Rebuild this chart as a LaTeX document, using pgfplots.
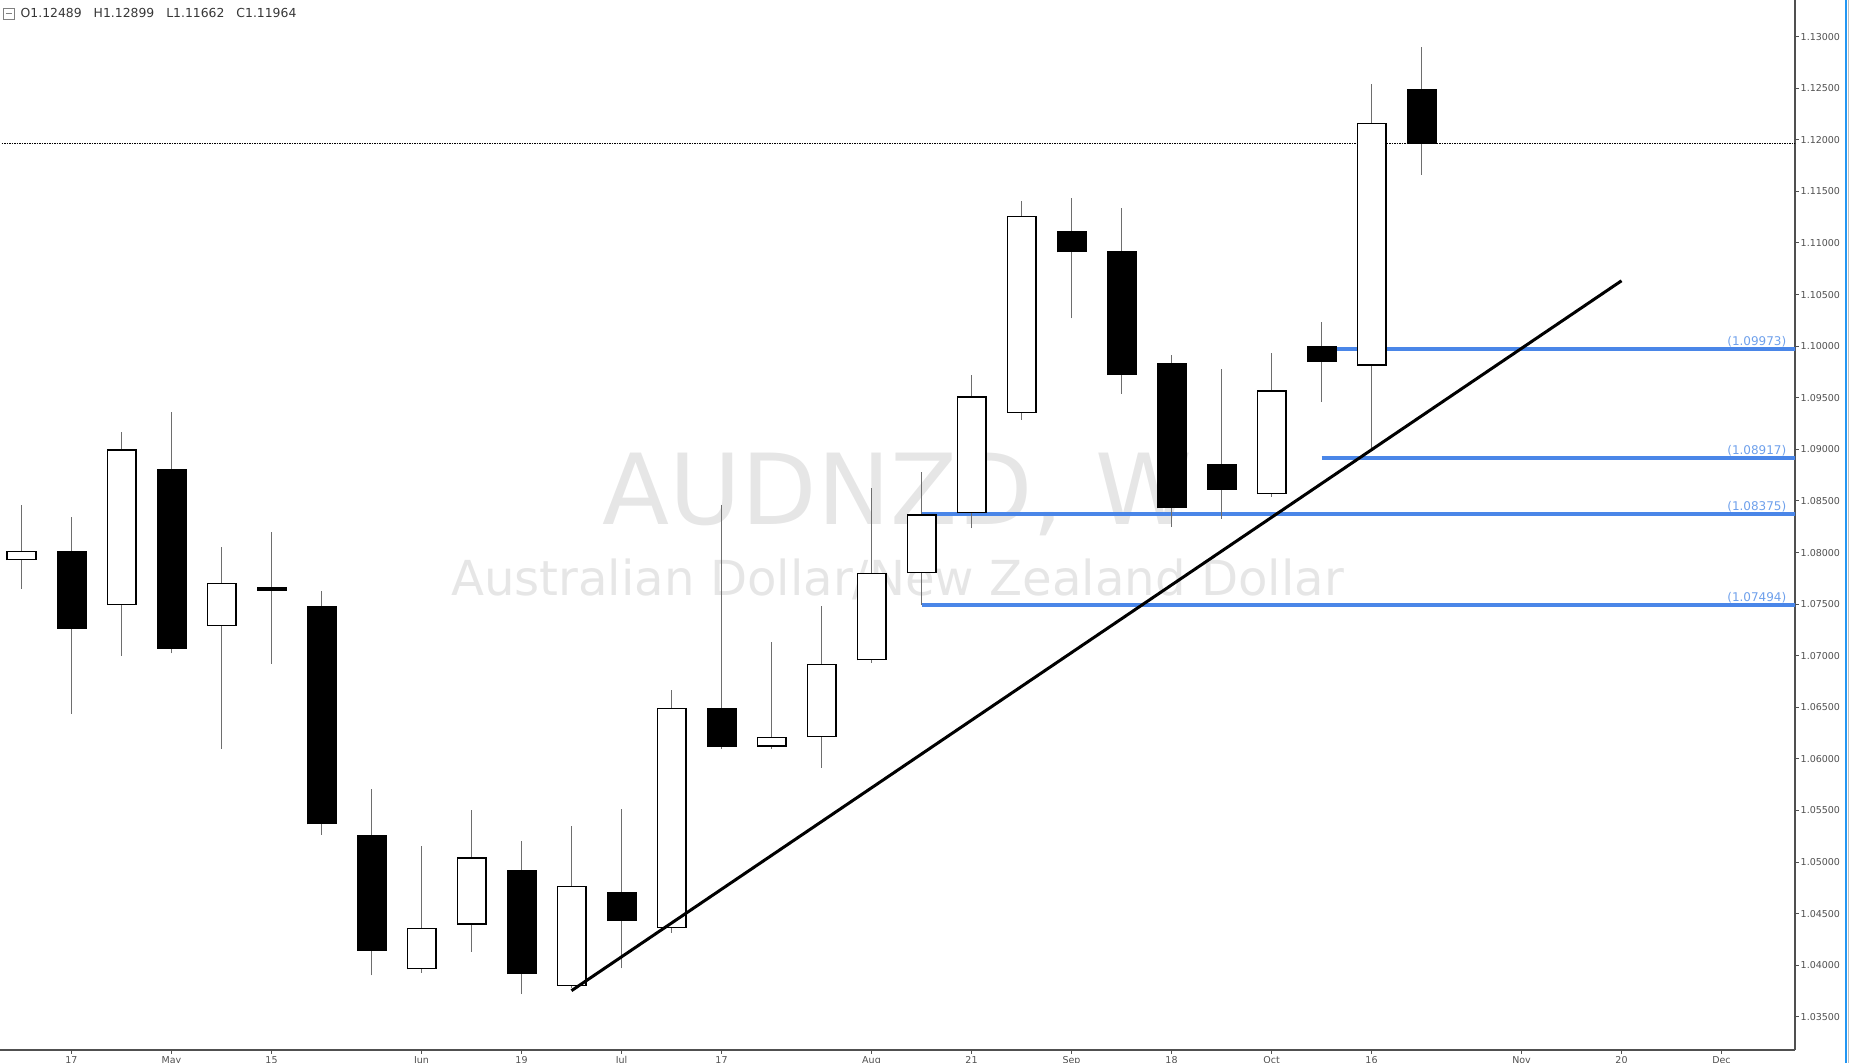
\documentclass[border=0pt]{standalone}
\usepackage{pgfplots}
\pgfplotsset{compat=1.18}
\usepackage{pgfplotstable}
\usepackage{fontspec}
\setmainfont{DejaVu Sans}

\definecolor{lvl}{RGB}{74,134,232}
\definecolor{lvltxt}{RGB}{110,160,235}
\definecolor{wm}{RGB}{230,230,230}
\definecolor{wick}{RGB}{110,110,110}
\definecolor{axisgray}{RGB}{80,80,80}
\definecolor{labelgray}{RGB}{80,80,80}
\definecolor{ohlc}{RGB}{55,55,55}
\definecolor{tvblue}{RGB}{33,150,243}

% AUDNZD weekly, x = week index (0 = week of 10 Apr)
\pgfplotstableread{
x  o       h       l       c
0  1.07926 1.08463 1.07651 1.08017
2  1.07491 1.09171 1.07000 1.09000
4  1.07286 1.08051 1.06097 1.07709
8  1.03960 1.05160 1.03926 1.04360
9  1.04394 1.05503 1.04131 1.05046
11 1.03800 1.05354 1.03777 1.04771
13 1.04360 1.06669 1.04314 1.06497
15 1.06120 1.07137 1.06097 1.06211
16 1.06211 1.07480 1.05914 1.06920
17 1.06954 1.08623 1.06931 1.07800
18 1.07800 1.08783 1.07491 1.08371
19 1.08383 1.09720 1.08234 1.09514
20 1.09354 1.11411 1.09286 1.11263
25 1.08566 1.09937 1.08543 1.09571
27 1.09811 1.12543 1.08989 1.12166
}\upcandles

\pgfplotstableread{
x  o       h       l       c
1  1.08017 1.08349 1.06440 1.07263
3  1.08806 1.09366 1.07023 1.07069
5  1.07663 1.08200 1.06920 1.07629
6  1.07480 1.07629 1.05263 1.05366
7  1.05263 1.05709 1.03903 1.04143
10 1.04920 1.05206 1.03720 1.03914
12 1.04714 1.05514 1.03971 1.04429
14 1.06497 1.08463 1.06097 1.06120
21 1.11114 1.11434 1.10269 1.10909
22 1.10920 1.11343 1.09537 1.09720
23 1.09834 1.09914 1.08246 1.08429
24 1.08863 1.09777 1.08326 1.08611
26 1.10006 1.10234 1.09457 1.09846
28 1.12489 1.12899 1.11662 1.11964
}\downcandles

\pgfplotsset{
  candlebar/.style 2 args={draw=none, mark=none, forget plot,
    error bars/.cd, y dir=plus, y explicit, error mark=none,
    error bar style={draw=#1, line width=#2}},
}

\begin{document}
\begin{tikzpicture}
\path[use as bounding box] (0,0) rectangle (1849pt,1063pt);
\clip (0,0) rectangle (1849pt,1063pt);
\begin{pgfinterruptboundingbox}
\begin{axis}[
  at={(0pt,13pt)}, anchor=south west,
  scale only axis, width=1795pt, height=1050pt,
  xmin=-0.43, xmax=35.47,
  ymin=1.03179, ymax=1.13355,
  axis x line*=bottom, axis y line*=right,
  axis line style={axisgray, line width=1.2pt},
  tick align=outside, major tick length=3.5pt,
  tick style={axisgray, line width=1pt},
  xtick={1,3,5,8,10,12,14,17,19,21,23,25,27,30,32,34},
  xticklabels={17,May,15,Jun,19,Jul,17,Aug,21,Sep,18,Oct,16,Nov,20,Dec},
  ytick={1.035,1.040,1.045,1.050,1.055,1.060,1.065,1.070,1.075,1.080,1.085,1.090,1.095,1.100,1.105,1.110,1.115,1.120,1.125,1.130},
  scaled y ticks=false,
  ticklabel style={font=\fontsize{9.5}{11}\selectfont, text=labelgray},
  yticklabel style={/pgf/number format/fixed, /pgf/number format/fixed zerofill,
    /pgf/number format/precision=5, /pgf/number format/assume math mode=true,
    anchor=west, inner sep=0pt, xshift=2pt},
  xticklabel style={anchor=north, inner sep=0pt, yshift=-3pt},
]
% watermark
\node[anchor=base, text=wm, inner sep=0pt, font=\fontsize{98}{110}\selectfont]
  at (rel axis cs:0.5,0.5005) {AUDNZD, W};
\node[anchor=base, text=wm, inner sep=0pt, font=\fontsize{48.2}{56}\selectfont]
  at (rel axis cs:0.5,0.4328) {Australian Dollar/New Zealand Dollar};

% horizontal levels
\addplot[lvl, line width=3.5pt, forget plot] coordinates {(26,1.09973) (36,1.09973)};
\addplot[lvl, line width=3.5pt, forget plot] coordinates {(26,1.08917) (36,1.08917)};
\addplot[lvl, line width=3.5pt, forget plot] coordinates {(18,1.08375) (36,1.08375)};
\addplot[lvl, line width=3.5pt, forget plot] coordinates {(18,1.07494) (36,1.07494)};

% last close
\addplot[black, line width=0.9pt, dash pattern=on 1.5pt off 1pt, forget plot]
  coordinates {(-1,1.11964) (36,1.11964)};

% wicks
\addplot[candlebar={wick}{1pt}]
  table[x=x, y=l, y error expr=\thisrow{h}-\thisrow{l}] {\upcandles};
\addplot[candlebar={wick}{1pt}]
  table[x=x, y=l, y error expr=\thisrow{h}-\thisrow{l}] {\downcandles};

% bodies
\addplot[candlebar={black}{30pt}]
  table[x=x, y=c, y error expr=\thisrow{o}-\thisrow{c}] {\downcandles};
\addplot[candlebar={black}{30pt}]
  table[x=x, y=o, y error expr=\thisrow{c}-\thisrow{o}] {\upcandles};
\addplot[candlebar={white}{27.6pt}]
  table[x=x, y expr=\thisrow{o}+0.00012, y error expr=\thisrow{c}-\thisrow{o}-0.00024] {\upcandles};

% trend line
\addplot[black, line width=3pt, forget plot] coordinates {(11.0,1.03754) (32.0,1.10634)};

% level labels
\foreach \v in {1.09973,1.08917,1.08375,1.07494}{
  \edef\temp{\noexpand\node[anchor=south east, text=lvltxt, inner sep=0pt, yshift=1.8pt,
    font=\noexpand\fontsize{12}{14}\noexpand\selectfont] at (axis cs:35.3,\v) {(\v)};}
  \temp
}
\end{axis}
\end{pgfinterruptboundingbox}

% OHLC header
\draw[gray, line width=0.9pt] (3pt,1044pt) rectangle (14pt,1055pt);
\draw[gray, line width=0.9pt] (5.5pt,1049.5pt) -- (11.5pt,1049.5pt);
\node[anchor=base west, inner sep=0pt, text=ohlc, font=\fontsize{12.4}{14}\selectfont]
  at (20.5pt,1045pt) {O1.12489\hspace{12pt}H1.12899\hspace{12pt}L1.11662\hspace{12pt}C1.11964};

% pane border
\draw[tvblue, line width=2pt] (1845.5pt,0) -- (1845.5pt,1063pt);
\draw[gray!50, line width=1pt] (1848.5pt,0) -- (1848.5pt,1063pt);
\draw[white, line width=0.5pt] (0,0.25pt) -- (1849pt,0.25pt);
\end{tikzpicture}
\end{document}
